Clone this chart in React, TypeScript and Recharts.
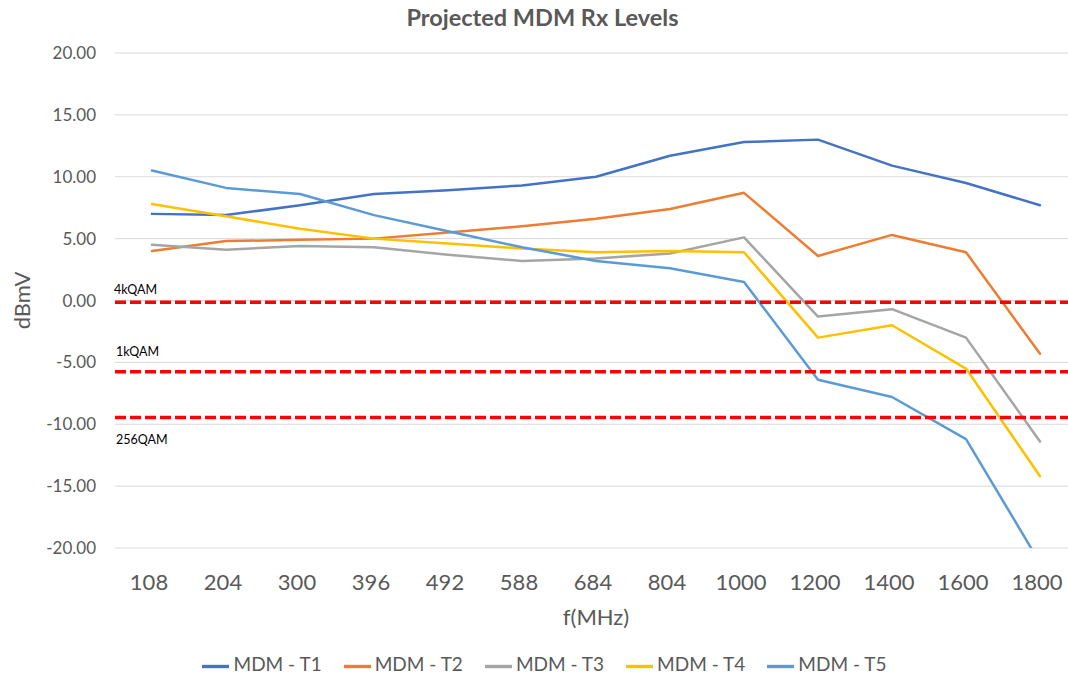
import { LineChart, Line, XAxis, YAxis, CartesianGrid, Legend, ReferenceLine } from "recharts";

const freqs = ["108", "204", "300", "396", "492", "588", "684", "804", "1000", "1200", "1400", "1600", "1800"];
const t1 = [7.0, 6.9, 7.7, 8.6, 8.9, 9.3, 10.0, 11.7, 12.8, 13.0, 10.9, 9.5, 7.7];
const t2 = [4.0, 4.8, 4.9, 5.0, 5.5, 6.0, 6.6, 7.4, 8.7, 3.6, 5.3, 3.9, -4.3];
const t3 = [4.5, 4.1, 4.4, 4.3, 3.7, 3.2, 3.4, 3.8, 5.1, -1.3, -0.7, -3.0, -11.4];
const t4 = [7.8, 6.8, 5.8, 5.0, 4.6, 4.2, 3.9, 4.0, 3.9, -3.0, -2.0, -5.5, -14.2];
const t5 = [10.5, 9.1, 8.6, 6.9, 5.6, 4.3, 3.2, 2.6, 1.5, -6.4, -7.8, -11.2, -21.2];
const yTicks = [-20, -15, -10, -5, 0, 5, 10, 15, 20];

const qamNames = ["4kQAM", "1kQAM", "256QAM"];
const qamLevels = [-0.15, -5.75, -9.45];

const data = freqs.map((f, i) => ({ f, t1: t1[i], t2: t2[i], t3: t3[i], t4: t4[i], t5: t5[i] }));

const series = [
  { key: "t1", name: "MDM - T1", color: "#4472C4" },
  { key: "t2", name: "MDM - T2", color: "#ED7D31" },
  { key: "t3", name: "MDM - T3", color: "#A5A5A5" },
  { key: "t4", name: "MDM - T4", color: "#FFC000" },
  { key: "t5", name: "MDM - T5", color: "#5B9BD5" },
];

// label offsets relative to the start of each red line
const qamLabelPos = [
  { dx: -1, dy: -8 },
  { dx: 1, dy: -16 },
  { dx: 1, dy: 27 },
];

const grey = "#595959";
const font = "Lato, 'Open Sans', sans-serif";

function qamLabel(text: string, dx: number, dy: number) {
  return (props: any) => {
    const vb = props.viewBox || {};
    return (
      <text x={vb.x + dx} y={vb.y + dy} fontSize={12.5} fill="#000" fontFamily={font}>
        {text}
      </text>
    );
  };
}

function YTitle(props: any) {
  const vb = props.viewBox || {};
  const cx = 21;
  const cy = vb.y + vb.height / 2;
  return (
    <text
      x={cx}
      y={cy}
      transform={`rotate(-90 ${cx} ${cy})`}
      textAnchor="middle"
      dominantBaseline="central"
      fontSize={22}
      fill={grey}
      fontFamily={font}
    >
      dBmV
    </text>
  );
}

export default function App() {
  return (
    <div
      style={{
        position: "absolute",
        left: 0,
        top: 0,
        width: 1068,
        height: 677,
        overflow: "hidden",
        background: "#fff",
        fontFamily: font,
      }}
    >
      <div
        style={{
          position: "absolute",
          top: 3,
          left: 0,
          width: 1085,
          textAlign: "center",
          fontSize: 23.5,
          fontWeight: 700,
          color: grey,
        }}
      >
        Projected MDM Rx Levels
      </div>
      <LineChart width={1085} height={677} data={data} margin={{ top: 53, right: 8, bottom: 49, left: 35 }}>
        <CartesianGrid vertical={false} stroke="#D9D9D9" strokeWidth={1} />
        <XAxis
          dataKey="f"
          padding={{ left: 37, right: 37 }}
          axisLine={false}
          tickLine={false}
          tickMargin={20}
          height={80}
          tick={{ fill: grey, fontSize: 22, fontFamily: font, dx: -3 }}
          label={{ value: "f(MHz)", position: "insideBottom", offset: 3, fill: grey, fontSize: 22, fontFamily: font }}
        />
        <YAxis
          width={80}
          domain={[-20, 20]}
          ticks={yTicks}
          allowDataOverflow
          axisLine={false}
          tickLine={false}
          tickMargin={13}
          tickFormatter={(v: number) => v.toFixed(2)}
          tick={{ fill: grey, fontSize: 17, fontFamily: font }}
          label={{ content: YTitle }}
        />
        {series.map((s) => (
          <Line
            key={s.key}
            type="linear"
            dataKey={s.key}
            name={s.name}
            stroke={s.color}
            strokeWidth={2.5}
            strokeLinejoin="round"
            strokeLinecap="round"
            dot={false}
            activeDot={false}
            legendType="plainline"
            isAnimationActive={false}
          />
        ))}
        {qamLevels.map((lvl, i) => (
          <ReferenceLine
            key={qamNames[i]}
            y={lvl}
            stroke="#FF0000"
            strokeWidth={3.5}
            strokeDasharray="11 4"
            label={{ content: qamLabel(qamNames[i], qamLabelPos[i].dx, qamLabelPos[i].dy) }}
          />
        ))}
        <Legend
          verticalAlign="middle"
          align="center"
          iconSize={27}
          wrapperStyle={{ top: 652, left: 0, width: 1111, fontSize: 19, fontFamily: font }}
          formatter={(value: string) => <span style={{ color: grey, marginRight: 12 }}>{value}</span>}
        />
      </LineChart>
    </div>
  );
}
